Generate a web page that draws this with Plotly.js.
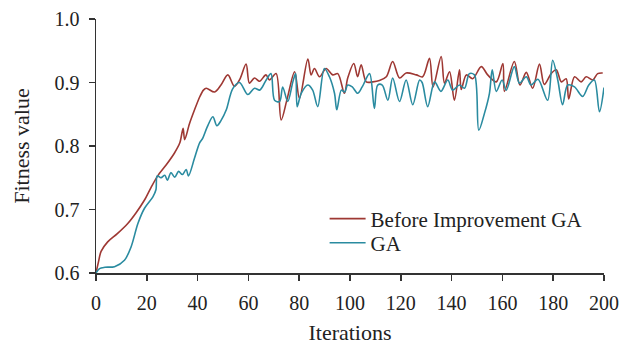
<!DOCTYPE html>
<html>
<head>
<meta charset="utf-8">
<script src="https://cdn.plot.ly/plotly-3.0.1.min.js"></script>
<style>html,body{margin:0;padding:0;background:#fff;}#chart{width:629px;height:345px;}</style>
</head>
<body>
<div id="chart"></div>
<script>
const seriesNames = ["Before Improvement GA", "GA"];

const redX = [0, 1, 2.0, 4.6, 8.4, 12.5, 15.8, 19.1, 21.7, 24.3, 27.6, 30.9, 33.0, 34.3, 34.9, 36.8, 38.8, 40.9, 42.3, 43.4, 46.7, 49.2, 51.9, 54.5, 56.6, 59.1, 60.4, 62.4, 64.4, 66.9, 68.3, 70.9, 72.9, 75.3, 78.2, 80.1, 83.4, 84.7, 86.0, 88.0, 90.6, 93.2, 95.2, 97.8, 99.1, 101.5, 103.0, 104.4, 106.4, 109.0, 111.6, 114.3, 116.8, 119.5, 122.1, 126.1, 128.6, 131.3, 132.7, 135.9, 137.2, 139.2, 141.1, 143.1, 143.8, 145.8, 148.3, 151.7, 154.2, 157.6, 160.2, 160.8, 164.7, 166.9, 169.4, 171.9, 174.6, 176.5, 179.2, 181.2, 183.2, 185.1, 186.1, 188.4, 191.0, 193.0, 195.6, 197.5, 199.5];
const redY = [0.600, 0.618, 0.634, 0.649, 0.662, 0.678, 0.695, 0.715, 0.735, 0.753, 0.770, 0.789, 0.805, 0.828, 0.810, 0.835, 0.857, 0.878, 0.888, 0.891, 0.885, 0.896, 0.912, 0.894, 0.905, 0.929, 0.899, 0.907, 0.902, 0.912, 0.904, 0.914, 0.841, 0.875, 0.917, 0.875, 0.937, 0.912, 0.922, 0.909, 0.922, 0.912, 0.914, 0.883, 0.907, 0.930, 0.909, 0.928, 0.901, 0.901, 0.903, 0.909, 0.933, 0.907, 0.915, 0.912, 0.909, 0.938, 0.893, 0.941, 0.899, 0.917, 0.872, 0.920, 0.889, 0.912, 0.906, 0.925, 0.912, 0.901, 0.930, 0.886, 0.933, 0.896, 0.916, 0.891, 0.929, 0.897, 0.914, 0.920, 0.901, 0.906, 0.874, 0.909, 0.901, 0.909, 0.904, 0.914, 0.915];

const tealX = [0, 1.4, 3.5, 7.3, 11.2, 13.8, 16.5, 19.1, 22.4, 23.6, 24.1, 25.6, 27.1, 28.1, 29.5, 31.0, 32.5, 34.0, 35.5, 36.4, 38.8, 40.8, 42.0, 43.8, 46.0, 47.6, 49.2, 51.3, 53.8, 56.5, 59.8, 62.4, 64.4, 65.5, 67.0, 68.9, 70.3, 72.3, 73.5, 75.5, 77.5, 78.6, 79.2, 80.8, 83.4, 85.3, 87.3, 89.9, 91.9, 93.9, 94.8, 96.6, 97.9, 99.1, 100.9, 103.0, 104.8, 107.7, 109.6, 110.9, 112.7, 114.9, 116.8, 119.5, 122.1, 124.7, 127.4, 128.4, 130.6, 133.3, 135.8, 138.5, 140.4, 143.1, 145.1, 147.0, 149.0, 150.7, 152.9, 154.9, 156.0, 157.6, 159.9, 161.5, 164.7, 166.7, 169.4, 171.3, 174.0, 177.8, 179.8, 181.8, 183.7, 185.7, 188.4, 191.6, 194.0, 196.2, 198.2, 200];
const tealY = [0.600, 0.607, 0.609, 0.610, 0.620, 0.641, 0.678, 0.702, 0.720, 0.731, 0.753, 0.750, 0.754, 0.746, 0.758, 0.751, 0.760, 0.755, 0.763, 0.753, 0.781, 0.805, 0.812, 0.830, 0.846, 0.832, 0.840, 0.857, 0.890, 0.900, 0.881, 0.891, 0.888, 0.893, 0.904, 0.914, 0.872, 0.870, 0.893, 0.870, 0.901, 0.914, 0.862, 0.883, 0.896, 0.888, 0.862, 0.922, 0.909, 0.883, 0.857, 0.888, 0.885, 0.896, 0.893, 0.883, 0.893, 0.914, 0.859, 0.896, 0.896, 0.872, 0.907, 0.870, 0.904, 0.865, 0.904, 0.900, 0.862, 0.901, 0.886, 0.904, 0.888, 0.896, 0.891, 0.914, 0.912, 0.825, 0.851, 0.883, 0.920, 0.886, 0.904, 0.888, 0.925, 0.899, 0.909, 0.896, 0.905, 0.872, 0.935, 0.904, 0.865, 0.896, 0.893, 0.878, 0.896, 0.904, 0.854, 0.892];

const xTicks = [0, 20, 40, 60, 80, 100, 120, 140, 160, 180, 200];
const yTicks = [0.6, 0.7, 0.8, 0.9, 1.0];

const fam = "Liberation Serif, Times New Roman, serif";
const tickFont = {family: fam, size: 20, color: "#222"};
const titleFont = {family: fam, size: 22, color: "#222"};
const legendFont = {family: fam, size: 21, color: "#222"};

const traces = [
  {x: redX, y: redY, name: seriesNames[0], type: "scatter", mode: "lines", legend: "legend",
   line: {color: "#9e3833", width: 1.6, shape: "spline", smoothing: 0.9}},
  {x: tealX, y: tealY, name: seriesNames[1], type: "scatter", mode: "lines", legend: "legend2",
   line: {color: "#2a8ba0", width: 1.6, shape: "spline", smoothing: 0.9}}
];

const axisCommon = {showline: true, linecolor: "#333", linewidth: 1.5, ticks: "outside",
  ticklen: 6, tickwidth: 1.5, tickcolor: "#333", showgrid: false, zeroline: false,
  tickfont: tickFont, automargin: false, ticklabelstandoff: 5};

const legendCommon = {x: 0.45, xanchor: "left", yanchor: "middle", bgcolor: "rgba(0,0,0,0)",
  font: legendFont, itemwidth: 36};

const layout = {
  width: 629, height: 345,
  margin: {l: 96, r: 25, t: 19, b: 72},
  paper_bgcolor: "#fff", plot_bgcolor: "#fff",
  font: titleFont,
  showlegend: true,
  legend: Object.assign({}, legendCommon, {y: 0.2126}),
  legend2: Object.assign({}, legendCommon, {y: 0.118}),
  xaxis: Object.assign({}, axisCommon, {range: [0, 200], tickvals: xTicks,
    ticktext: xTicks.map(String), title: {text: "Iterations", font: titleFont, standoff: 14}}),
  yaxis: Object.assign({}, axisCommon, {range: [0.6, 1.0], tickvals: yTicks,
    ticktext: yTicks.map(v => v.toFixed(1)), title: {text: "Fitness value", font: titleFont, standoff: 19}})
};

Plotly.newPlot("chart", traces, layout, {displayModeBar: false, staticPlot: true});
</script>
</body>
</html>
